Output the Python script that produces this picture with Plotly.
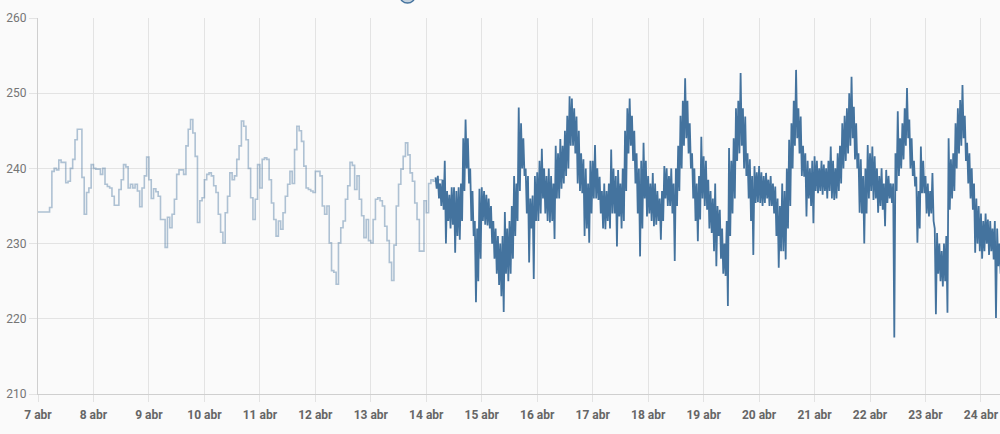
import datetime as dt
import plotly.graph_objects as go

# ---------------- data ----------------
# Hourly long-term statistics (lighter step line), starting 7 abr 00:00
light_start = "2024-04-07 00:00"
light_values = [
    234.2, 234.2, 234.2, 234.2, 234.2, 234.8, 239.6, 240.0, 239.8, 241.1, 240.8, 240.8,
    238.1, 238.3, 240.0, 241.2, 243.8, 245.2, 245.2, 238.8, 233.9, 236.8, 237.4, 240.5,
    240.0, 239.9, 239.9, 239.2, 240.0, 237.9, 237.6, 237.4, 236.3, 235.1, 235.1, 237.2,
    238.5, 240.5, 240.2, 237.4, 237.9, 237.4, 237.9, 237.0, 234.9, 237.4, 239.0, 241.5,
    238.5, 236.0, 237.3, 236.9, 236.3, 233.2, 233.2, 229.5, 233.5, 232.1, 233.9, 235.9,
    239.2, 239.8, 239.8, 239.2, 243.0, 245.2, 246.5, 244.7, 241.6, 232.8, 235.7, 236.1,
    238.5, 239.2, 239.4, 239.0, 237.7, 236.8, 233.9, 231.5, 230.1, 234.1, 236.3, 239.4,
    238.5, 239.0, 241.2, 243.0, 246.3, 245.6, 243.8, 240.0, 236.1, 233.2, 235.9, 240.5,
    237.4, 241.2, 241.4, 241.2, 238.5, 235.4, 233.2, 231.0, 233.0, 231.9, 234.1, 236.3,
    237.9, 239.6, 238.0, 242.5, 245.6, 245.0, 243.6, 240.3, 237.4, 237.2, 237.0, 236.8,
    239.6, 239.6, 239.0, 235.0, 233.9, 235.0, 230.1, 226.4, 226.2, 224.6, 230.1, 232.1,
    233.0, 235.9, 237.7, 240.8, 240.4, 237.2, 239.0, 235.9, 233.7, 230.8, 233.2, 230.4,
    230.1, 233.2, 235.9, 236.1, 235.7, 235.0, 232.3, 230.4, 227.5, 225.1, 229.8, 235.0,
    237.9, 239.9, 241.6, 243.4, 241.8, 239.4, 238.3, 235.4, 233.2, 229.0, 229.0, 235.7,
    234.1, 238.0, 238.5, 238.3, 238.5, 238.5, 238.5, 238.5,
]

# Detailed sensor history (dark line): per hour a high reading (:00) and a low reading (:30),
# starting 14 abr 04:00
dark_start = "2024-04-14 04:00"
dark_high = [
    # 14 abr 04h-23h
    238.8, 239, 238, 238.5, 241, 237, 236.5, 237.5, 237.5, 237, 237.5, 238, 244, 246.5, 244, 240, 237, 233, 232, 237.3,
    # 15 abr
    237.5, 237, 236.5, 236, 235, 233, 232, 231, 230, 231, 234.2, 232, 233, 235, 239, 238, 248.1, 246, 244, 240, 239, 236, 236.4, 239,
    # 16 abr
    239.5, 241, 242.6, 240, 239, 240, 239, 238, 243, 242, 243.9, 243, 245, 247, 249.6, 249.3, 248, 246.9, 245, 242, 241.2, 240, 238, 241,
    # 17 abr
    241, 243.1, 240, 238.9, 237, 238, 237, 238, 242.5, 240, 239, 239.8, 238, 240, 245, 248, 249.3, 247, 245, 242, 240, 241, 243.4, 241,
    # 18 abr
    239, 238, 239.4, 238, 237, 236, 237, 240.3, 240, 239, 240, 238, 240, 243, 247, 249, 252, 249, 246, 242, 240, 238, 239, 244.2,
    # 19 abr
    241.6, 241, 238.5, 237, 236, 238, 235, 234.5, 232, 230, 233, 242.7, 241, 244, 248, 249, 252.7, 248, 246.9, 242, 241.2, 239, 240.3, 239.5,
    # 20 abr
    240.3, 239.5, 239, 239.4, 238.5, 239, 238, 237.6, 236, 235, 238, 237, 240, 243.8, 246, 249, 253.1, 248, 246.9, 243, 242, 241, 240, 241,
    # 21 abr
    241.6, 241, 240, 241, 240.5, 240, 241, 242.9, 241, 240, 242, 243, 246, 247, 248, 250, 252.2, 248.2, 246, 242, 241.2, 239, 240, 243.1,
    # 22 abr
    242, 242.9, 241.6, 240, 239, 240, 238, 239.8, 239, 238, 238, 242, 247.6, 244, 246, 248, 250.7, 246.5, 244, 241, 238.9, 237, 242.9, 241,
    # 23 abr
    239, 238, 237, 239.4, 232, 231.4, 230, 229, 230, 231, 244, 241.2, 242, 246, 248, 249.1, 251.1, 247, 243.4, 242, 240, 238, 236, 235,
    # 24 abr 00h-08h
    234, 233, 234, 233.2, 233, 232, 233, 232, 230,
]
dark_low = [
    # 14 abr 04h-23h
    237.3, 236, 235, 234.5, 230, 233, 232, 232.5, 228.8, 231, 230.5, 233, 237, 240, 238, 233, 231, 222.2, 225, 228,
    # 15 abr
    233, 232.5, 232.4, 232, 230, 228, 226, 224.5, 223, 220.9, 226, 225, 226, 228, 231, 233, 237, 240, 239, 234, 227.5, 232, 225.3, 233,
    # 16 abr
    233, 234, 236, 234, 233, 232.8, 233, 230.6, 236, 236, 237.3, 238, 239, 240, 243, 243, 242, 238, 237, 236.7, 231, 232, 230.1, 234,
    # 17 abr
    236, 236, 235.8, 234, 232, 231.9, 233, 232, 234, 234, 229.6, 233.6, 232, 233, 237, 242, 243, 241, 238, 234, 228.3, 232, 236, 233.6,
    # 18 abr
    234, 233, 232.3, 232.5, 233, 230.5, 233, 236, 235, 235, 234, 227.7, 235, 237, 240, 243, 244, 242, 240, 236, 233, 230.3, 233.2, 236,
    # 19 abr
    235, 234.5, 232, 231.4, 229, 227, 231, 228, 226, 225.7, 221.7, 231, 234, 236, 241, 242, 243, 240, 239, 236, 233, 228.5, 235.4, 235.5,
    # 20 abr
    235.4, 235, 235.4, 236, 235, 235, 234, 231, 226.8, 229, 229, 227.9, 232, 235, 240, 243, 244, 242, 239, 238.9, 233.6, 236, 235, 232.7,
    # 21 abr
    237, 236.7, 237, 236.5, 237, 236, 237, 236, 235.8, 236, 237, 238, 240, 241, 242, 243, 244, 241.2, 240, 234.1, 234, 230, 234, 236,
    # 22 abr
    237, 235.8, 236, 234.1, 235, 234.5, 232.3, 235.4, 236, 235.4, 217.5, 237, 239, 240, 241.2, 243, 244, 240, 239, 237.6, 230.1, 232, 236.7, 236.7,
    # 23 abr
    234, 233.6, 234, 233, 220.6, 226, 225, 224.3, 225, 220.8, 234.5, 236, 237, 240, 242, 243, 244, 241, 238, 236, 234.5, 228.8, 230, 229,
    # 24 abr 00h-08h
    228, 229, 230, 228.5, 229, 227.9, 220.1, 227, 226,
]

# Axis ticks
day_numbers = list(range(7, 25))
day_labels = [f"{d} abr" for d in day_numbers]
y_ticks = [210, 220, 230, 240, 250, 260]
x_range = ["2024-04-07 00:00", "2024-04-24 08:14"]

# ---------------- build series ----------------
t0 = dt.datetime.fromisoformat(light_start)
light_x = [t0 + dt.timedelta(hours=i) for i in range(len(light_values))]

d0 = dt.datetime.fromisoformat(dark_start)
dark_x, dark_y = [], []
for i, (hi, lo) in enumerate(zip(dark_high, dark_low)):
    dark_x.append(d0 + dt.timedelta(hours=i))
    dark_y.append(hi)
    dark_x.append(d0 + dt.timedelta(hours=i, minutes=30))
    dark_y.append(lo)

tick_dates = [dt.datetime(2024, 4, d) for d in day_numbers]

BLUE = "#44739e"
GRID = "#e3e3e3"

fig = go.Figure()
fig.add_trace(go.Scatter(
    x=light_x, y=light_values, mode="lines", line_shape="hv",
    line=dict(color="rgba(68,115,158,0.42)", width=1.6),
    hoverinfo="skip", showlegend=False,
))
fig.add_trace(go.Scatter(
    x=dark_x, y=dark_y, mode="lines",
    line=dict(color=BLUE, width=1.8),
    hoverinfo="skip", showlegend=False,
))

fig.update_layout(
    width=1000, height=434,
    margin=dict(l=38, r=0, t=18, b=40, autoexpand=False),
    paper_bgcolor="#fafafa", plot_bgcolor="#fafafa",
    font=dict(family="Roboto", size=12, color="#757575"),
    showlegend=False,
    shapes=[dict(
        type="circle", xref="paper", yref="paper",
        x0=(400 - 38) / 962, x1=(415 - 38) / 962,
        y0=(394 - 3) / 376, y1=(394 + 11) / 376,
        fillcolor="rgba(68,115,158,0.3)", line=dict(color=BLUE, width=1.5),
    )],
)
fig.update_xaxes(
    type="date", range=x_range,
    tickvals=tick_dates, ticktext=day_labels,
    showgrid=True, gridcolor=GRID, gridwidth=1,
    ticks="outside", ticklen=7, tickcolor=GRID, ticklabelstandoff=3,
    showline=True, linecolor="#cfcfcf", linewidth=1,
    tickfont=dict(family="Roboto", size=12, color="#666666", weight="bold"),
    zeroline=False, fixedrange=True, automargin=False,
)
fig.update_yaxes(
    range=[210, 260], tickvals=y_ticks,
    showgrid=True, gridcolor=GRID, gridwidth=1,
    ticks="outside", ticklen=8, tickcolor=GRID,
    showline=True, linecolor="#cfcfcf", linewidth=1,
    tickfont=dict(family="Roboto", size=12, color="#757575"),
    zeroline=False, fixedrange=True, automargin=False,
)

fig.write_html(
    "out.html",
    config={"displayModeBar": False},
    post_script="document.body.style.margin='0px';document.body.style.background='#fafafa';",
)
